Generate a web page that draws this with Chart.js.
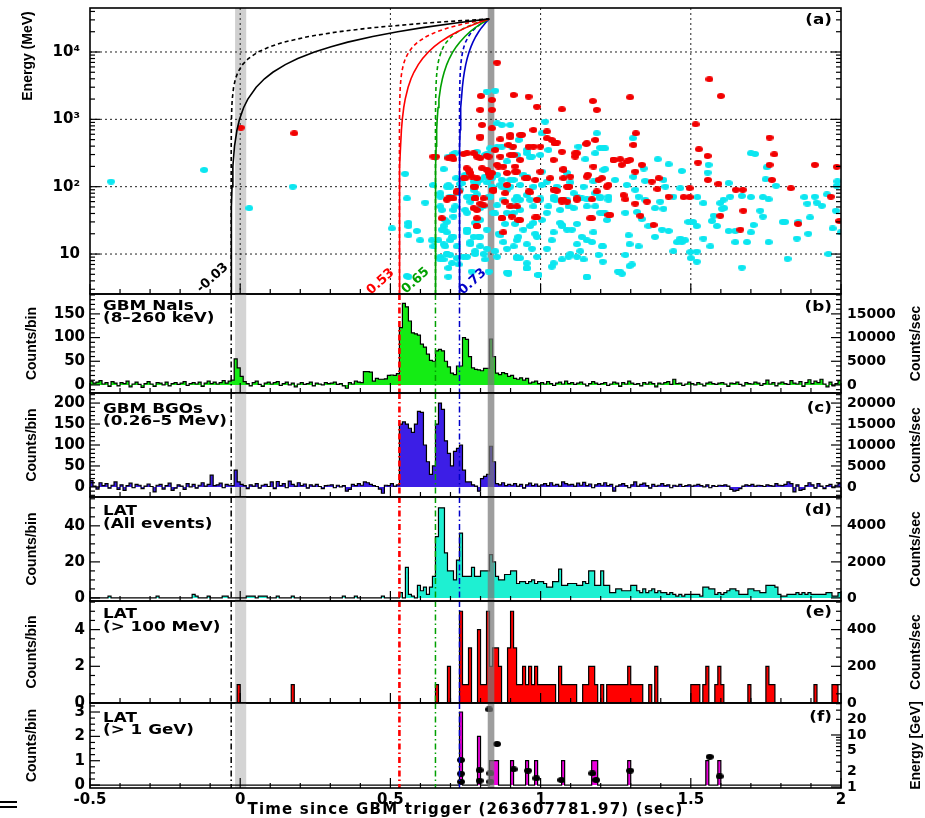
<!DOCTYPE html>
<html>
<head>
<meta charset="utf-8">
<script src="https://cdn.jsdelivr.net/npm/chart.js@4.4.1/dist/chart.umd.min.js"></script>
<style>
  html, body { margin: 0; background: #fff; }
  #wrap { position: relative; width: 925px; height: 818px; overflow: hidden; background: #fff; }
  #wrap canvas { position: absolute; left: 0; top: 0; }
</style>
</head>
<body>
<div id="wrap">
  <canvas id="pa" width="925" height="818"></canvas>
  <canvas id="pb" width="925" height="818"></canvas>
  <canvas id="pc" width="925" height="818"></canvas>
  <canvas id="pd" width="925" height="818"></canvas>
  <canvas id="pe" width="925" height="818"></canvas>
  <canvas id="pf" width="925" height="818"></canvas>
</div>
<script>
// ---- time axis / binning shared by all panels ----
const X_MIN = -0.5, X_MAX = 2, BIN = 0.01, NBINS = 250, RATE = 100;
const X_TICKS = [-0.5, 0, 0.5, 1, 1.5, 2];

// onset times marked through the panels, and the 31 GeV photon
const ONSETS = [-0.03, 0.53, 0.65, 0.73];
const ONSET_LABELS = ['-0.03', '0.53', '0.65', '0.73'];
const ONSET_COLORS = ['#000000', '#ff0000', '#00a000', '#0000c8'];
const PHOTON_T = 0.829, PHOTON_E = 31000;
const CURVE_E = [2.55, 5, 10, 20, 50, 100, 200, 400, 700, 1000, 1500, 2000, 3000, 4000, 5000,
  6500, 8000, 10000, 12000, 14000, 17000, 20000, 23000, 27000, 31000];
const BAND_ZERO = [-0.017, 0.02];
const BAND_PHOTON = [0.824, 0.846];

// ---- (a) LAT events, [time, energy MeV] ----
const CYAN_EVT = [
  [-0.43,119],[-0.12,177],[0.03,48],[0.175,100],
  [1.307,524],[1.198,377],[1.215,182],[1.39,256],[1.426,215],[1.47,171],[1.343,186],[1.309,140],[1.287,106],
  [1.348,122],[1.409,126],[1.415,100],[1.465,95],[1.315,90],[1.198,71],[1.226,71],[1.326,71],[1.348,64],
  [1.398,60],[1.442,71],[1.381,48],[1.409,47],[1.321,42],[1.337,33],[1.282,41],[1.221,32],[1.207,41],
  [1.359,26],[1.404,23],[1.426,22],[1.381,18],[1.293,19],[1.296,14],[1.326,13],[1.282,9.7],[1.207,13],
  [1.207,7.7],[1.304,7],[1.296,6.6],[1.263,5.5],[1.442,11],[1.454,15],[1.47,15],[1.481,16],[1.492,30],
  [1.498,10.7],[1.5,8.7],[1.52,7.7],[1.52,10.9],[1.52,26],[1.522,70],[1.542,57],[1.559,211],[1.556,162],
  [1.565,13],[1.57,31],[1.576,37],[1.587,26],[1.598,57],[1.609,64],[1.604,47],[1.611,48],[1.626,113],
  [1.631,71],[1.626,22],[1.648,22],[1.648,15],[1.67,73],[1.67,6.3],[1.687,15],[1.7,70],[1.709,27],[1.7,21],
  [1.7,314],[1.714,306],[1.731,44],[1.74,70],[1.74,36],[1.749,129],[1.753,194],[1.759,65],[1.759,15],
  [1.784,103],[1.806,30],[1.822,8.5],[1.853,17],[1.858,30],[1.878,70],[1.888,56],[1.891,20],[1.897,35],
  [1.913,71],[1.919,58],[1.936,52],[1.953,77],[1.958,10],[1.972,24],[1.983,44],[1.986,103],[1.988,120],
  [1.999,21],[1.507,30],[1.542,17],[1.465,17],[1.814,30],
  [0.821,2580],[0.849,2660],[1.015,925],[0.871,826],[1.187,621],[1.004,621],[0.927,494],[0.855,385],
  [0.821,306],[0.71,306],[0.954,314],[0.965,274],[1.026,351],[1.149,256],[1.209,371],[0.677,182],[0.549,155],
  [0.749,150],[0.719,134],[0.855,150],[0.91,126],[0.976,100],[1.021,119],[1.099,116],[1.143,100],[1.176,120],
  [1.209,177],[0.643,106],[0.699,100],[0.732,110],[0.777,119],[0.821,116],[0.866,106],[0.899,100],[0.932,106],
  [1.054,100],[0.555,67],[0.616,58],[0.666,80],[0.755,71],[0.788,77],[0.832,71],[0.876,64],[0.921,71],
  [0.965,64],[0.999,67],[1.043,65],[1.121,71],[1.154,65],[1.198,67],[0.666,51],[0.71,45],[0.755,41],
  [0.799,48],[0.843,41],[0.888,41],[0.932,45],[0.976,51],[1.021,41],[1.065,45],[1.11,48],[1.154,51],
  [1.198,41],[0.505,24],[0.56,26],[0.588,22],[0.56,19],[0.599,16],[0.638,16],[0.677,26],[0.688,21],
  [0.677,14],[0.71,18],[0.721,13],[0.755,23],[0.777,18],[0.799,13],[0.821,23],[0.866,19],[0.888,12],
  [0.921,16],[0.932,8.7],[0.965,26],[0.988,18],[1.021,12],[1.043,21],[1.065,29],[1.088,23],[1.121,9.1],
  [1.143,8.3],[1.154,16],[1.176,21],[1.204,13],[1.259,5.5],[1.154,4.5],[0.993,4.9],[0.893,5.3],[0.954,6.2],
  [0.693,6.2],[0.666,9.1],[0.688,10],[0.721,8.7],[0.782,10],[0.821,12],[0.855,9.1],[0.555,4.7],[1.043,7.3],
  [1.099,10],[1.121,14],
  [0.56,29],[0.643,13],[0.677,23],[0.688,30],[0.699,16],[0.688,10],[0.755,21],[0.766,15],[0.782,29],
  [0.799,18],[0.81,10],[0.743,9.1],[0.705,7.3],[0.666,8.3],[0.855,53],[0.888,90],[0.932,64],[0.91,41],
  [0.943,23],[0.954,14],[0.91,13],[0.976,29],[0.999,64],[1.043,71],[1.088,64],[1.071,27],[1.104,23],
  [0.921,8.7],[0.988,9.1],[0.888,5.3],[0.954,7.3],[0.777,90],[0.732,90],[0.688,100],[0.699,71],[0.766,60],
  [0.799,126],[0.838,134],[0.871,100],[0.899,126],[0.943,150],[0.888,237],[0.921,296],[0.954,351],
  [0.832,371],[0.788,330],[0.855,870],[0.899,826],[0.999,296],[1.088,160],[1.11,80],
  [0.693,106],[0.666,71],[0.671,45],[0.682,32],[0.671,23],[0.66,16],[0.682,13],[0.699,9.7],[0.677,8.3],
  [0.705,18],[0.71,36],[0.716,51],[0.721,80],[0.738,112],[0.749,45],[0.755,23],[0.766,14],[0.755,9.1],
  [0.782,11],[0.793,18],[0.799,32],[0.81,51],[0.827,71],[0.838,100],[0.849,40],[0.86,20],[0.876,15],
  [0.849,11],[0.882,28],[0.904,51],[0.915,28],[0.926,18],[0.921,9.1],[0.954,6.1],[0.893,5.1],[0.993,4.9],
  [0.971,12],[0.982,20],[1.004,32],[1.026,51],[0.993,64],[1.037,16],[1.071,26],[1.093,9.1],[1.121,28],
  [1.137,18],[1.171,15],[1.132,11],[1.193,9.7],[1.215,40],[1.182,51],[1.154,4.6],[1.26,5.5],[0.771,71],
  [0.788,112],[0.871,126],[0.815,141],[0.915,64],[0.954,75],[1.004,106],[1.049,64],[1.093,51],[1.137,67],
  [1.182,80],[1.226,64],[1.248,126],[0.693,280],[0.716,314],[0.815,296],[0.871,394],[0.904,394],
  [1.126,394],[1.182,314],[1.215,371],[0.971,280],[1.004,167],[0.954,141],[0.56,4.6],[0.693,4.6],
  [0.727,7],[0.771,5.5],[0.815,8.3],[0.827,5.5],[1.037,6.5],[1.071,8.3],[1.271,5.1]
];
const RED_EVT = [
  [0.002,753],[0.18,621],
  [1.298,2130],[1.562,3940],[1.6,2220],[1.516,845],[1.317,621],[1.309,417],[1.527,360],[1.556,286],
  [1.524,228],[1.762,535],[1.778,303],[1.762,211],[1.77,126],[1.913,211],[1.986,197],[1.557,126],[1.592,110],
  [1.243,250],[1.265,256],[1.287,237],[1.27,211],[1.298,250],[1.337,211],[1.315,167],[1.37,119],[1.393,134],
  [1.389,92],[1.204,134],[1.221,100],[1.276,75],[1.282,65],[1.315,56],[1.354,60],[1.426,71],[1.496,70],
  [1.476,70],[1.232,38],[1.332,37],[1.376,27],[1.598,37],[1.675,44],[1.665,23],[1.65,90],[1.673,90],
  [1.833,95],[1.966,71],[1.857,28],[1.994,31],[1.496,95],
  [0.855,6950],[0.801,2220],[0.838,1940],[0.799,1380],[0.838,1380],[0.91,2300],[0.96,2170],[0.988,1540],
  [1.071,1410],[1.174,1870],[1.187,1380],[0.805,826],[0.838,738],[0.799,535],[0.866,506],[0.899,541],
  [0.908,394],[0.938,587],[0.976,696],[0.976,394],[1.021,524],[1.054,452],[1.121,314],[1.152,431],
  [1.182,494],[0.652,280],[0.705,280],[0.71,256],[0.743,306],[0.777,314],[0.821,287],[0.866,280],[0.91,296],
  [0.932,250],[0.999,394],[1.043,250],[1.076,182],[1.115,280],[1.176,199],[0.754,188],[0.766,160],
  [0.805,188],[0.838,160],[0.876,199],[0.888,160],[0.921,167],[0.954,134],[0.999,167],[1.032,134],
  [1.088,100],[1.099,141],[1.154,141],[0.721,82],[0.777,100],[0.81,67],[0.843,87],[0.882,80],[0.899,51],
  [0.777,48],[0.799,56],[0.688,64],[0.71,67],[0.965,82],[1.054,87],[1.076,64],[1.088,60],[1.121,64],
  [1.187,85],[1.165,34],[1.226,38],[0.988,35],[0.932,32],[0.871,34],[0.671,34],[0.643,280],
  [0.76,177],[0.799,265],[0.827,280],[0.821,177],[0.855,211],[0.832,141],[0.788,134],[0.749,134],
  [0.727,85],[0.693,67],[0.782,67],[0.843,90],[0.788,26],[0.904,36],[0.921,51],[0.876,21],[0.755,314],
  [0.899,296],[0.915,199],[0.949,134],[0.988,64],[1.043,90],[1.071,64],[1.076,134],[1.093,100],[1.037,494],
  [1.071,330],[1.021,660],[1.049,440],[0.799,555],[0.899,587],[0.932,587],
  [0.693,265],[0.788,280],[0.849,351],[0.893,417],[0.96,394],[1.048,440],[1.115,314],[1.154,440],
  [1.243,250],[1.076,177],[1.157,150],[1.193,126],[1.226,106],[0.771,141],[0.744,134],[0.827,158],
  [0.86,199],[0.915,167],[0.954,134],[0.982,126],[0.721,85],[0.782,100],[0.843,90],[0.888,106],[0.96,85],
  [1.048,90],[1.093,100],[1.071,60],[1.121,67],[1.171,65],[0.699,67],[0.782,67],[0.81,53],[0.882,60],
  [0.788,45],[0.788,34],[0.871,34],[0.926,32],[0.982,35],[1.171,34],[0.788,26]
];

// ---- (b)-(d) counts per 10 ms bin, from -0.5 s ----
const NAI_COUNTS = [
  8,4,6,9,2,5,-3,7,4,-2,  5,3,8,-4,2,6,1,-5,3,7,  2,-3,5,4,0,6,-2,3,5,1,  4,7,-1,3,5,2,6,-3,4,8,
  3,6,2,5,9,4,8,10,55,36,  18,7,3,-2,5,8,1,-3,4,6,  2,5,7,-1,3,6,0,4,-4,2,  5,1,3,6,-2,4,2,0,5,3,
  4,6,1,3,-2,-7,5,2,8,6,  5,28,28,27,8,14,12,12,13,20,  21,20,24,121,172,165,135,110,108,105,
  86,80,65,52,50,72,75,72,50,38,  25,22,40,40,100,96,60,36,33,32,  30,35,35,97,60,25,22,26,24,18,
  20,14,12,15,10,14,4,6,8,3,  5,2,7,3,-1,4,6,2,8,3,  5,1,4,6,2,-2,3,7,4,1,  3,5,-1,2,6,4,-3,5,2,8,
  4,1,3,-2,5,2,6,3,-4,4,  2,5,7,1,12,3,4,-1,2,6,  3,0,5,2,-2,4,6,3,1,4,  5,2,-3,4,3,6,1,-2,5,3,
  2,6,4,-1,3,10,2,5,-2,4,  6,3,1,9,4,2,7,-3,5,11,  3,8,5,12,2,-4,6,-2,3,9
];
const BGO_COUNTS = [
  15,2,-5,10,3,8,-3,4,12,-6,  5,-8,3,9,-2,6,4,-4,2,7,  1,-12,4,6,-5,3,9,-8,-3,5,  2,-6,8,0,6,-3,4,10,2,6,
  28,3,5,9,-2,6,4,3,40,12,  6,3,-4,5,2,8,-3,4,6,1,  12,-4,13,3,8,-2,14,6,2,10,  3,7,-3,5,2,6,1,-4,3,4,
  5,-2,4,0,3,-10,-6,6,3,8,  4,12,10,6,3,1,-5,-15,4,3,  8,2,5,150,155,150,140,130,150,180,
  178,100,60,30,50,150,200,185,110,80,  50,85,92,100,40,12,12,5,2,-10,  20,25,30,97,60,8,5,10,3,6,
  4,8,2,6,-3,5,9,3,7,2,  5,8,3,10,4,6,2,12,8,5,  6,2,9,4,11,3,7,-2,5,8,  4,10,3,6,-10,2,5,8,3,-2,
  5,12,2,6,9,3,-3,6,2,4,  8,3,5,-2,4,2,6,1,3,5,  2,4,6,3,0,5,-2,3,1,4,  3,5,2,-6,-10,-8,-4,2,5,3,
  6,2,4,3,1,5,3,2,8,4,  3,6,12,8,-12,5,-8,-6,3,10,  5,-3,8,2,-4,3,6,-2,4,8
];
const LAT_ALL_COUNTS = [
  0,0,0,0,0,0,1,0,0,0,  0,0,0,0,0,0,0,0,0,0,  0,0,1,0,0,0,0,0,0,0,  0,0,0,0,2,1,0,0,0,1,
  0,0,0,0,1,1,0,0,0,0,  0,0,1,1,1,0,1,1,1,0,  0,0,1,0,0,0,0,1,0,0,  0,0,0,0,0,0,0,0,0,0,
  0,0,0,0,1,0,0,0,1,0,  0,0,0,0,0,0,0,1,0,0,  0,0,0,3,0,17,2,1,0,7,  4,6,2,6,12,34,50,50,25,15,
  15,10,21,36,12,12,12,17,12,12,  15,15,15,24,20,12,10,10,13,13,  15,15,8,9,9,8,9,10,8,9,
  9,8,6,6,9,9,16,7,7,8,  8,8,7,7,9,8,15,15,7,7,  15,7,7,3,3,5,5,4,4,4,  7,7,4,3,5,3,4,5,3,4,
  3,3,2,3,2,1,2,1,2,2,  2,2,2,1,6,6,5,5,2,3,  2,3,4,5,5,4,2,2,2,5,  5,4,4,3,3,7,7,7,6,2,
  1,1,2,2,2,3,2,3,2,3,  2,2,2,2,2,3,3,1,1,3
];
// ---- (e),(f) sparse bins: [bin start, counts] ----
const LAT_100_BINS = [
  [-0.01,1],[0.17,1],[0.65,1],[0.69,2],[0.73,5],[0.74,1],[0.75,1],[0.76,3],[0.79,4],[0.80,1],[0.81,1],
  [0.82,5],[0.83,2],[0.84,3],[0.85,3],[0.86,2],[0.89,3],[0.90,5],[0.91,3],[0.92,1],[0.93,1],[0.94,2],
  [0.95,1],[0.96,2],[0.97,1],[0.98,2],[0.99,1],[1.00,1],[1.01,1],[1.02,1],[1.03,1],[1.04,1],[1.06,2],
  [1.07,1],[1.08,1],[1.09,1],[1.10,1],[1.11,1],[1.14,1],[1.15,1],[1.16,2],[1.17,2],[1.18,1],[1.20,1],
  [1.22,1],[1.23,1],[1.24,1],[1.25,1],[1.26,1],[1.27,1],[1.28,1],[1.29,2],[1.30,1],[1.31,1],[1.32,1],
  [1.33,1],[1.36,1],[1.38,2],[1.50,1],[1.51,1],[1.52,1],[1.54,1],[1.55,2],[1.58,1],[1.59,2],[1.60,1],
  [1.69,1],[1.75,2],[1.76,1],[1.77,1],[1.91,1],[1.97,1],[1.98,1]
];
const LAT_1G_BINS = [
  [0.73,3],[0.79,2],[0.83,1],[0.84,1],[0.85,1],[0.90,1],[0.95,1],[0.98,1],[1.07,1],[1.17,1],[1.18,1],
  [1.29,1],[1.55,1],[1.59,1]
];
// >1 GeV photon energies, [time, GeV]
const LAT_1G_EVT = [
  [0.735,3.3],[0.735,1.8],[0.735,1.26],[0.797,2.1],[0.797,1.32],[0.829,31],[0.833,1.83],[0.833,1.26],
  [0.855,6.7],[0.91,2.19],[0.958,2.06],[0.986,1.47],[1.069,1.36],[1.172,1.83],[1.185,1.36],[1.298,2.06],
  [1.563,3.8],[1.596,1.6]
];

// ---- axis ticks ----
const A_Y_TICKS = [10, 100, 1000, 10000];
const A_Y_LABELS = ['10', '10\u00B2', '10\u00B3', '10\u2074'];
const B_TICKS = [0, 50, 100, 150];
const C_TICKS = [0, 50, 100, 150, 200];
const D_TICKS = [0, 20, 40];
const E_TICKS = [0, 2, 4];
const F_TICKS = [0, 1, 2, 3];
const F_E_TICKS = [1, 2, 5, 10, 20];

// ---- layout ----
const H = 818, LEFT_W = 90, RIGHT_W = 84;
const AREA = {a: [8, 294], b: [294, 393], c: [393, 497], d: [497, 601], e: [601, 703], f: [703, 788]};
const TICK_FONT = {family: "'DejaVu Sans', sans-serif", weight: 'bold', size: 15};
const RTICK_FONT = {family: "'DejaVu Sans', sans-serif", weight: 'bold', size: 14};
const TXT_FONT = "bold 14px 'DejaVu Sans', sans-serif";
const VT_FONT = "bold 14px 'Liberation Sans Narrow', 'Liberation Sans', sans-serif";

Chart.defaults.color = '#000';
Chart.defaults.font.family = "'DejaVu Sans', sans-serif";

function toXY(list) { return list.map(([x, y]) => ({x, y})); }
function sparseCounts(list) {
  const c = new Array(NBINS).fill(0);
  list.forEach(([t, n]) => { c[Math.round((t - X_MIN) / BIN)] = n; });
  return c;
}
function stepSeries(counts) {
  const pts = counts.map((v, i) => ({x: X_MIN + i * BIN, y: v}));
  pts.push({x: X_MAX, y: counts[counts.length - 1]});
  return pts;
}
// dispersion delay t = t0 + (t_hi - t0) * (E / E_hi)^n
function delayCurve(t0, n) {
  return CURVE_E.map(e => ({x: t0 + (PHOTON_T - t0) * Math.pow(e / PHOTON_E, n), y: e}));
}
function ellipse(color, w, h) {
  const c = document.createElement('canvas');
  c.width = w; c.height = h;
  const g = c.getContext('2d');
  g.fillStyle = color;
  g.beginPath(); g.ellipse(w / 2, h / 2, w / 2, h / 2, 0, 0, Math.PI * 2); g.fill();
  return c;
}

function xScale(visible) {
  const s = {type: 'linear', min: X_MIN, max: X_MAX, display: visible};
  if (visible) Object.assign(s, {
    position: 'bottom',
    afterBuildTicks: sc => { sc.ticks = X_TICKS.map(v => ({value: v})); },
    afterFit: sc => { sc.height = 30; sc.paddingLeft = 0; sc.paddingRight = 0; },
    grid: {display: false, drawTicks: false}, border: {display: false},
    ticks: {font: TICK_FONT, padding: 3, autoSkip: false, maxRotation: 0, callback: v => String(v)}
  });
  return s;
}
function yScale(side, min, max, ticks, extra) {
  return Object.assign({
    type: 'linear', position: side, min, max,
    afterBuildTicks: sc => { sc.ticks = ticks.map(v => ({value: v})); },
    afterFit: sc => { sc.width = side === 'left' ? LEFT_W : RIGHT_W; sc.paddingTop = 0; sc.paddingBottom = 0; },
    grid: {display: false, drawTicks: false}, border: {display: false},
    ticks: {font: side === 'left' ? TICK_FONT : RTICK_FONT, padding: side === 'left' ? 5 : 6,
      autoSkip: false, callback: v => String(v)}
  }, extra || {});
}

// ---- drawing helpers ----
function seg(ctx, x1, y1, x2, y2) { ctx.beginPath(); ctx.moveTo(x1, y1); ctx.lineTo(x2, y2); ctx.stroke(); }
function band(ctx, x, a, r, color) {
  const l = x.getPixelForValue(r[0]), rr = x.getPixelForValue(r[1]);
  ctx.fillStyle = color;
  ctx.fillRect(l, a.top, rr - l, a.bottom - a.top);
}
function frame(ctx, a, x) {
  ctx.save();
  ctx.strokeStyle = '#000'; ctx.lineWidth = 1.6; ctx.setLineDash([]);
  ctx.strokeRect(a.left, a.top, a.right - a.left, a.bottom - a.top);
  ctx.lineWidth = 1.2;
  for (let k = 0; k <= 25; k++) {
    const px = x.getPixelForValue(X_MIN + k * 0.1);
    seg(ctx, px, a.bottom, px, a.bottom - (k % 5 === 0 ? 10 : 5));
  }
  ctx.restore();
}
function linTicks(ctx, s, a, majors, step, left, right) {
  ctx.save(); ctx.strokeStyle = '#000'; ctx.lineWidth = 1.2;
  const lo = Math.ceil(s.min / step - 1e-9), hi = Math.floor(s.max / step + 1e-9);
  for (let k = lo; k <= hi; k++) {
    const v = k * step, py = s.getPixelForValue(v);
    const len = majors.some(m => Math.abs(m - v) < 1e-9) ? 10 : 5;
    if (left) seg(ctx, a.left, py, a.left + len, py);
    if (right) seg(ctx, a.right, py, a.right - len, py);
  }
  ctx.restore();
}
function logTicks(ctx, s, a, left, right) {
  ctx.save(); ctx.strokeStyle = '#000'; ctx.lineWidth = 1.2;
  for (let d = Math.floor(Math.log10(s.min)); d <= Math.ceil(Math.log10(s.max)); d++) {
    for (let m = 1; m <= 9; m++) {
      const v = m * Math.pow(10, d);
      if (v < s.min || v > s.max) continue;
      const py = s.getPixelForValue(v), len = m === 1 ? 10 : 5;
      if (left) seg(ctx, a.left, py, a.left + len, py);
      if (right) seg(ctx, a.right, py, a.right - len, py);
    }
  }
  ctx.restore();
}
function onsetLines(ctx, x, a) {
  ctx.save();
  ONSETS.forEach((t, i) => {
    const px = x.getPixelForValue(t);
    ctx.strokeStyle = ONSET_COLORS[i];
    ctx.lineWidth = i === 1 ? 2.6 : 1.5;
    ctx.setLineDash([6, 3, 1.5, 3]);
    seg(ctx, px, a.top, px, a.bottom);
  });
  ctx.restore();
}
function wideText(ctx, s, x, y, align) {
  ctx.save();
  ctx.font = TXT_FONT; ctx.fillStyle = '#000'; ctx.textBaseline = 'alphabetic';
  ctx.textAlign = align || 'left';
  ctx.translate(x, y); ctx.scale(1.2, 1);
  ctx.fillText(s, 0, 0);
  ctx.restore();
}
function vTitle(ctx, s, x, y) {
  ctx.save();
  ctx.font = VT_FONT; ctx.fillStyle = '#000';
  ctx.textAlign = 'center'; ctx.textBaseline = 'middle';
  ctx.translate(x, y); ctx.rotate(-Math.PI / 2);
  ctx.fillText(s, 0, 0);
  ctx.restore();
}

// standard histogram panel decorations
function histDeco(name, cfg) {
  return {
    id: 'deco_' + name,
    beforeDatasetsDraw(chart) {
      const {ctx, chartArea: a, scales: {x}} = chart;
      ctx.save();
      band(ctx, x, a, BAND_ZERO, '#d4d4d4');
      ctx.restore();
    },
    afterDatasetsDraw(chart) {
      const {ctx, chartArea: a, scales} = chart;
      ctx.save();
      band(ctx, scales.x, a, BAND_PHOTON, 'rgba(120,120,120,0.72)');
      ctx.restore();
      onsetLines(ctx, scales.x, a);
      frame(ctx, a, scales.x);
      linTicks(ctx, scales.y, a, cfg.majors, cfg.minor, true, !cfg.logRight);
      if (cfg.logRight) logTicks(ctx, scales.y2, a, false, true);
      wideText(ctx, cfg.title[0], 103, cfg.titleY[0]);
      wideText(ctx, cfg.title[1], 103, cfg.titleY[1]);
      wideText(ctx, cfg.tag, 832, cfg.tagY, 'right');
      vTitle(ctx, 'Counts/bin', 32, (a.top + a.bottom) / 2);
      vTitle(ctx, cfg.rightTitle, 916, (a.top + a.bottom) / 2);
      if (cfg.bottom) cfg.bottom(ctx, a);
    }
  };
}

function histDataset(counts, color) {
  return {type: 'line', data: stepSeries(counts), stepped: true, fill: 'origin',
    backgroundColor: color, borderColor: '#000', borderWidth: 1.2, pointRadius: 0, tension: 0};
}

function panel(id, area, datasets, scales, plugin, xAxisH) {
  const hasRight = !!scales.y2;
  return new Chart(document.getElementById(id), {
    type: 'line',
    data: {datasets},
    options: {
      responsive: false, animation: false, devicePixelRatio: 1, events: [],
      layout: {padding: {left: 0, right: hasRight ? 0 : RIGHT_W, top: area[0], bottom: H - area[1] - (xAxisH || 0)}},
      plugins: {legend: {display: false}, tooltip: {enabled: false}},
      scales
    },
    plugins: [plugin]
  });
}

// ---- (a) energy vs time ----
const aSets = [];
ONSETS.forEach((t0, i) => {
  aSets.push({type: 'scatter', showLine: true, data: delayCurve(t0, 1), borderColor: ONSET_COLORS[i],
    borderWidth: 1.6, pointRadius: 0, fill: false});
  aSets.push({type: 'scatter', showLine: true, data: delayCurve(t0, 2), borderColor: ONSET_COLORS[i],
    borderWidth: 1.6, borderDash: [4, 3], pointRadius: 0, fill: false});
});
aSets.push({type: 'scatter', data: toXY(RED_EVT), pointStyle: ellipse('#f20000', 8, 6), pointRadius: 3});
aSets.push({type: 'scatter', data: toXY(CYAN_EVT), pointStyle: ellipse('#0be6f0', 8, 6), pointRadius: 3});

panel('pa', AREA.a, aSets, {
  x: xScale(false),
  y: yScale('left', 2.55, 45000, A_Y_TICKS, {
    type: 'logarithmic',
    ticks: {font: TICK_FONT, padding: 10, autoSkip: false, callback: v => A_Y_LABELS[A_Y_TICKS.indexOf(v)]}
  })
}, {
  id: 'deco_a',
  beforeDatasetsDraw(chart) {
    const {ctx, chartArea: a, scales: {x, y}} = chart;
    ctx.save();
    band(ctx, x, a, BAND_ZERO, '#d0d0d0');
    band(ctx, x, a, BAND_PHOTON, '#9c9c9c');
    ctx.strokeStyle = '#222'; ctx.lineWidth = 1; ctx.setLineDash([2, 3]);
    A_Y_TICKS.forEach(v => { const py = y.getPixelForValue(v); seg(ctx, a.left, py, a.right, py); });
    X_TICKS.slice(1, -1).forEach(v => { const px = x.getPixelForValue(v); seg(ctx, px, a.top, px, a.bottom); });
    ctx.restore();
  },
  afterDatasetsDraw(chart) {
    const {ctx, chartArea: a, scales: {x, y}} = chart;
    frame(ctx, a, x);
    logTicks(ctx, y, a, true, true);
    // onset labels along the bottom of the panel
    const anchors = [[201, 293], [371, 295], [406, 294], [463, 295]];
    ONSET_LABELS.forEach((s, i) => {
      ctx.save();
      ctx.font = "bold 13px 'DejaVu Sans', sans-serif";
      ctx.fillStyle = ONSET_COLORS[i];
      ctx.translate(anchors[i][0], anchors[i][1]);
      ctx.rotate(-42 * Math.PI / 180);
      ctx.fillText(s, 0, 0);
      ctx.restore();
    });
    wideText(ctx, '(a)', 832, 24, 'right');
    vTitle(ctx, 'Energy (MeV)', 28, 56);
  }
});

// ---- (b) GBM NaI ----
panel('pb', AREA.b, [histDataset(NAI_COUNTS, '#14ec14')], {
  x: xScale(false),
  y: yScale('left', -17, 192, B_TICKS),
  y2: yScale('right', -17 * RATE, 192 * RATE, B_TICKS.map(v => v * RATE))
}, histDeco('b', {majors: B_TICKS, minor: 10, title: ['GBM NaIs', '(8\u2013260 keV)'], titleY: [310, 322],
  tag: '(b)', tagY: 311, rightTitle: 'Counts/sec'}));

// ---- (c) GBM BGO ----
panel('pc', AREA.c, [histDataset(BGO_COUNTS, '#3c1ee6')], {
  x: xScale(false),
  y: yScale('left', -24, 224, C_TICKS),
  y2: yScale('right', -24 * RATE, 224 * RATE, C_TICKS.map(v => v * RATE))
}, histDeco('c', {majors: C_TICKS, minor: 10, title: ['GBM BGOs', '(0.26\u20135 MeV)'], titleY: [413, 425],
  tag: '(c)', tagY: 412, rightTitle: 'Counts/sec'}));

// ---- (d) LAT all events ----
panel('pd', AREA.d, [histDataset(LAT_ALL_COUNTS, '#1ef0d2')], {
  x: xScale(false),
  y: yScale('left', -1.7, 56, D_TICKS),
  y2: yScale('right', -1.7 * RATE, 56 * RATE, D_TICKS.map(v => v * RATE))
}, histDeco('d', {majors: D_TICKS, minor: 5, title: ['LAT', '(All events)'], titleY: [515, 528],
  tag: '(d)', tagY: 514, rightTitle: 'Counts/sec'}));

// ---- (e) LAT > 100 MeV ----
panel('pe', AREA.e, [histDataset(sparseCounts(LAT_100_BINS), '#ff0000')], {
  x: xScale(false),
  y: yScale('left', 0, 5.56, E_TICKS),
  y2: yScale('right', 0, 5.56 * RATE, E_TICKS.map(v => v * RATE))
}, histDeco('e', {majors: E_TICKS, minor: 0.5, title: ['LAT', '(> 100 MeV)'], titleY: [618, 631],
  tag: '(e)', tagY: 616, rightTitle: 'Counts/sec'}));

// ---- (f) LAT > 1 GeV, with photon energies on the right axis ----
panel('pf', AREA.f, [
  {type: 'scatter', yAxisID: 'y2', data: toXY(LAT_1G_EVT), pointStyle: ellipse('#000', 8, 6), pointRadius: 3},
  histDataset(sparseCounts(LAT_1G_BINS), '#ee00dd')
], {
  x: xScale(true),
  y: yScale('left', -0.12, 3.37, F_TICKS),
  y2: yScale('right', 0.956, 41.2, F_E_TICKS, {type: 'logarithmic'})
}, histDeco('f', {majors: F_TICKS, minor: 0.25, logRight: true, title: ['LAT', '(> 1 GeV)'], titleY: [722, 734],
  tag: '(f)', tagY: 721, rightTitle: 'Energy [GeV]',
  bottom(ctx, a) {
    ctx.save();
    ctx.font = "bold 15px 'DejaVu Sans', sans-serif";
    ctx.letterSpacing = '1.2px';
    ctx.fillStyle = '#000'; ctx.textAlign = 'center'; ctx.textBaseline = 'alphabetic';
    ctx.fillText('Time since GBM trigger (263607781.97) (sec)', (a.left + a.right) / 2, 814);
    ctx.fillRect(0, 801, 17, 2);
    ctx.fillRect(0, 806, 17, 2);
    ctx.restore();
  }}), 30);
</script>
</body>
</html>
